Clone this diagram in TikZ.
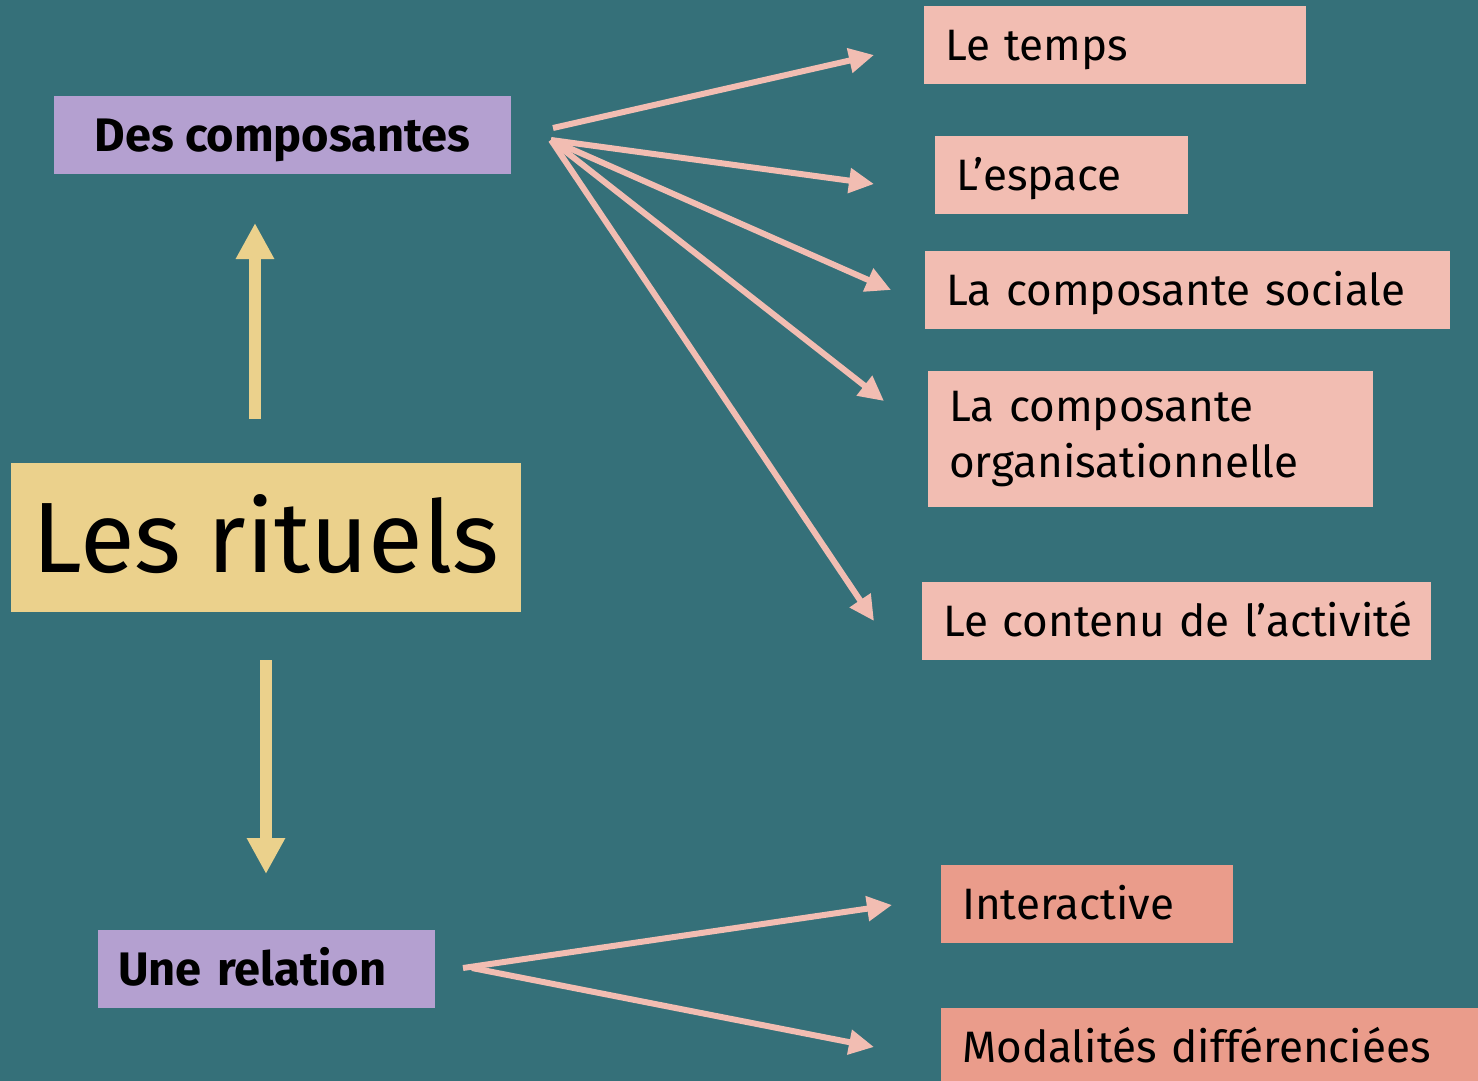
\documentclass[tikz,border=0pt]{standalone}
\usepackage{fontspec}
\setmainfont{Fira Sans}
\usetikzlibrary{arrows.meta}
\definecolor{bgteal}{HTML}{357079}
\definecolor{sand}{HTML}{EBD18C}
\definecolor{lilac}{HTML}{B4A0D0}
\definecolor{blush}{HTML}{F2BDB2}
\definecolor{salmon}{HTML}{EA9C8B}
\newcommand{\txt}{\fontsize{44}{56}\selectfont}
\tikzset{
  topic/.style={fill=lilac, inner sep=0pt, minimum height=78pt, text height=32.5pt, text depth=0pt,
    font=\fontsize{47}{56}\selectfont\bfseries},
  pane/.style={fill=blush, anchor=north west, align=left, inner xsep=21pt, inner ysep=0pt, minimum height=78pt, font=\txt},
  item/.style={pane, text height=30.5pt, text depth=0pt},
  link/.style={draw=blush, line width=6pt, -{Triangle[length=25pt,width=24pt]}},
  pillar/.style={draw=sand, line width=12pt, -{Triangle[length=36pt,width=36pt]}}
}

\begin{document}
\begin{tikzpicture}[x=1pt,y=-1pt]
\fill[bgteal] (0,0) rectangle (1478,1081);
\useasboundingbox (0,0) rectangle (1478,1081);

% left column
\node[topic, minimum width=457pt] (comp) at (282.5,135) {Des composantes};
\node[fill=sand, inner sep=0pt, minimum width=510pt, minimum height=149pt, text height=70pt, text depth=0pt,
      font=\fontsize{100}{110}\selectfont] (rit) at (266,537.5) {Les rituels};
\node[topic, anchor=north west, align=left, inner xsep=20pt, text width=297pt] (rel) at (98,930) {Une relation};

% right column
\node[item, text width=340pt] (temps) at (924,6) {Le temps};
\node[item, text width=211pt] (espace) at (935,136) {L’espace};
\node[item, text width=483pt] (sociale) at (925,251) {\mbox{La composante sociale}};
\node[pane, text width=403pt, minimum height=136pt] (orga) at (928,371) {La composante\\organisationnelle};
\node[item, text width=467pt] (contenu) at (922,582) {\mbox{Le contenu de l’activité}};
\node[item, fill=salmon, text width=250pt] (inter) at (941,865) {Interactive};
\node[item, fill=salmon, text width=518pt] (modal) at (941,1008) {\mbox{Modalités différenciées}};

% arrow ends
\coordinate (compA) at (553,128);
\coordinate (compB) at (551,140);
\coordinate (relA) at (463,968);
\coordinate (relB) at (472,968);
\coordinate (toTemps) at (874,55);
\coordinate (toEspace) at (874,184);
\coordinate (toSociale) at (891,290);
\coordinate (toOrga) at (884,401);
\coordinate (toContenu) at (874,621);
\coordinate (toInter) at (892,905);
\coordinate (toModal) at (874,1047);
\coordinate (ritUp) at (255,419);
\coordinate (toComp) at (255,223);
\coordinate (ritDown) at (266,660);
\coordinate (toRel) at (266,874);

\draw[pillar] (ritUp) -- (toComp);
\draw[pillar] (ritDown) -- (toRel);

\draw[link] (compA) -- (toTemps);
\foreach \t in {toEspace,toSociale,toOrga,toContenu}
  \draw[link] (compB) -- (\t);
\draw[link] (relA) -- (toInter);
\draw[link] (relB) -- (toModal);
\end{tikzpicture}
\end{document}
